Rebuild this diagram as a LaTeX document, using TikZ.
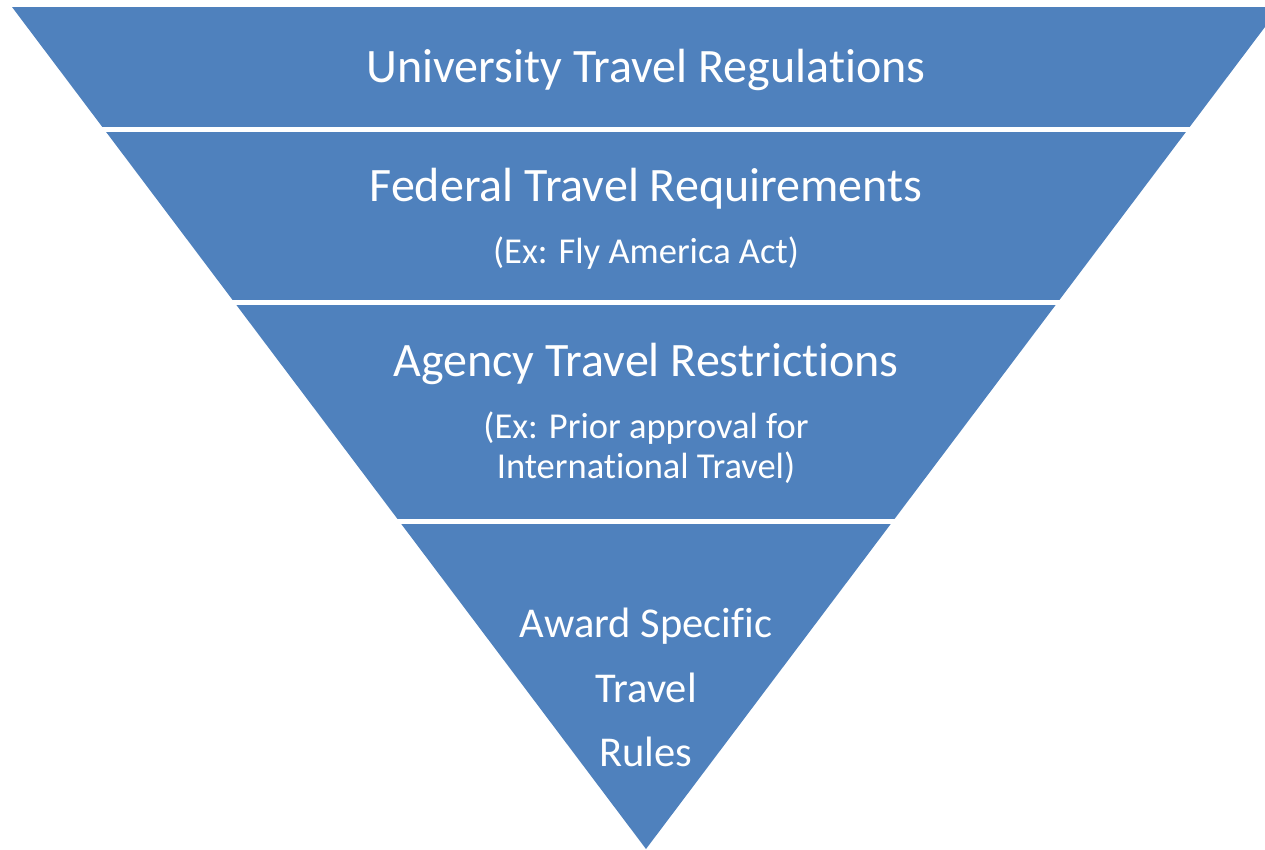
\documentclass[tikz,border=0pt]{standalone}
\usepackage{fontspec}
\setmainfont{Carlito}[RawFeature={-liga;-clig;-dlig}]
\definecolor{bandblue}{HTML}{4F81BD}
\tikzset{
  title/.style={text=white, anchor=base, inner sep=0pt, font=\fontsize{48}{56}\selectfont},
  sub/.style={text=white, anchor=base, inner sep=0pt, font=\fontsize{36.5}{42}\selectfont},
  tip/.style={text=white, anchor=base, inner sep=0pt, font=\fontsize{42.5}{50}\selectfont},
  gap/.style={draw=white, line width=5.5pt}
}
\begin{document}
\begin{tikzpicture}[x=1pt,y=-1pt]
\useasboundingbox (0,0) rectangle (1265,849);
\clip (0,0) rectangle (1265,849);
\fill[bandblue] (12,7) -- (1280,7) -- (646,849) -- cycle;
\draw[gap] (0,129.5) -- (1265,129.5);
\draw[gap] (0,302.7) -- (1265,302.7);
\draw[gap] (0,521.7) -- (1265,521.7);
\node[title] (t1) at (646,82) {University Travel Regulations};
\node[title] (t2) at (646,201) {Federal Travel Requirements};
\node[sub] (s2) at (646,263) {(Ex: Fly America Act)};
\node[title] (t3) at (646,376) {Agency Travel Restrictions};
\node[sub] (s3a) at (646,438) {(Ex: Prior approval for};
\node[sub] (s3b) at (646,478) {International Travel)};
\node[tip] (t4a) at (646,637) {Award Specific};
\node[tip] (t4b) at (646,702) {Travel};
\node[tip] (t4c) at (646,766) {Rules};
\end{tikzpicture}
\end{document}
